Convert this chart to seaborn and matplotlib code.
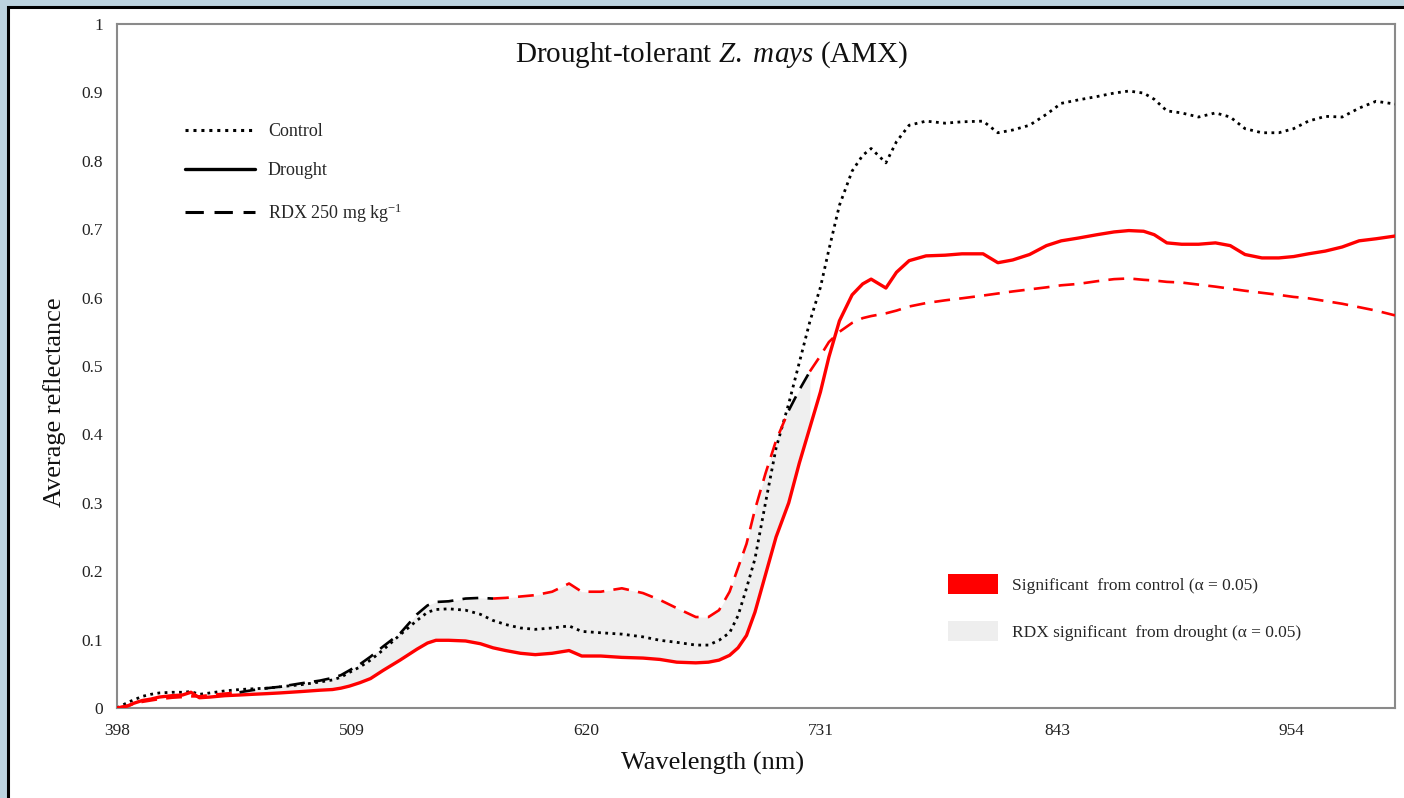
import numpy as np
import pandas as pd
import matplotlib
matplotlib.use("Agg")
import matplotlib.pyplot as plt
import seaborn as sns
from matplotlib.lines import Line2D
from matplotlib.patches import Patch, Rectangle

# ---------------- data ----------------
wavelength = [398, 403, 406, 410, 414, 418, 424, 429, 433, 437, 442, 449, 456, 462, 469, 475, 485, 494, 500, 504,
              508, 513, 518, 524, 532, 540, 545, 549, 555, 563, 570, 576, 582, 589, 596, 604, 612, 618, 627, 637,
              647, 655, 663, 672, 678, 683, 688, 692, 696, 700, 705, 710, 716, 721, 726, 731, 735, 740, 746, 751,
              755, 762, 767, 773, 781, 790, 798, 808, 815, 822, 830, 838, 845, 853, 862, 870, 877, 884, 889, 895,
              902, 910, 918, 925, 932, 940, 948, 955, 962, 970, 978, 986, 994, 1003]

control = [0.000, 0.008, 0.012, 0.017, 0.020, 0.022, 0.023, 0.023, 0.024, 0.020, 0.022, 0.025, 0.027, 0.028, 0.029, 0.031, 0.034, 0.038, 0.041, 0.045,
           0.052, 0.060, 0.070, 0.085, 0.107, 0.128, 0.140, 0.144, 0.145, 0.143, 0.137, 0.128, 0.122, 0.117, 0.115, 0.117, 0.120, 0.112, 0.110, 0.108,
           0.104, 0.099, 0.096, 0.092, 0.092, 0.099, 0.110, 0.135, 0.175, 0.218, 0.300, 0.380, 0.445, 0.505, 0.565, 0.615, 0.670, 0.735, 0.785, 0.808,
           0.818, 0.797, 0.828, 0.852, 0.858, 0.855, 0.857, 0.858, 0.841, 0.845, 0.852, 0.868, 0.884, 0.889, 0.894, 0.899, 0.902, 0.899, 0.890, 0.873,
           0.870, 0.864, 0.870, 0.864, 0.847, 0.841, 0.841, 0.847, 0.858, 0.865, 0.864, 0.877, 0.887, 0.883]

drought = [0.000, 0.003, 0.007, 0.011, 0.013, 0.016, 0.018, 0.019, 0.023, 0.015, 0.016, 0.018, 0.019, 0.020, 0.021, 0.022, 0.024, 0.026, 0.027, 0.029,
           0.032, 0.037, 0.043, 0.055, 0.070, 0.086, 0.095, 0.099, 0.099, 0.098, 0.094, 0.088, 0.084, 0.080, 0.078, 0.080, 0.084, 0.076, 0.076, 0.074,
           0.073, 0.071, 0.067, 0.066, 0.067, 0.070, 0.077, 0.088, 0.106, 0.140, 0.195, 0.250, 0.300, 0.358, 0.410, 0.462, 0.513, 0.566, 0.604, 0.620,
           0.627, 0.614, 0.637, 0.654, 0.661, 0.662, 0.664, 0.664, 0.651, 0.655, 0.663, 0.676, 0.683, 0.687, 0.692, 0.696, 0.698, 0.697, 0.692, 0.680,
           0.678, 0.678, 0.680, 0.676, 0.663, 0.658, 0.658, 0.660, 0.664, 0.668, 0.674, 0.683, 0.686, 0.690]

rdx = [0.000, 0.003, 0.006, 0.009, 0.011, 0.013, 0.015, 0.016, 0.017, 0.017, 0.019, 0.021, 0.023, 0.026, 0.029, 0.031, 0.036, 0.040, 0.044, 0.048,
       0.055, 0.064, 0.075, 0.090, 0.109, 0.137, 0.150, 0.155, 0.156, 0.160, 0.161, 0.160, 0.161, 0.163, 0.165, 0.170, 0.182, 0.170, 0.170, 0.175,
       0.168, 0.158, 0.146, 0.133, 0.133, 0.143, 0.170, 0.205, 0.240, 0.290, 0.343, 0.391, 0.435, 0.465, 0.492, 0.515, 0.535, 0.550, 0.563, 0.570,
       0.573, 0.577, 0.581, 0.587, 0.592, 0.596, 0.599, 0.603, 0.606, 0.609, 0.612, 0.615, 0.618, 0.620, 0.624, 0.627, 0.628, 0.626, 0.625, 0.623,
       0.622, 0.619, 0.616, 0.613, 0.610, 0.607, 0.604, 0.601, 0.599, 0.595, 0.591, 0.586, 0.581, 0.574]

# wavelength ranges where RDX differs significantly from control / from drought
rdx_sig_control = [(398, 449), (573, 710), (725, 1003)]
rdx_sig_drought = [(456, 728)]

x_ticks = [398, 509, 620, 731, 843, 954]
y_ticks = [0, 0.1, 0.2, 0.3, 0.4, 0.5, 0.6, 0.7, 0.8, 0.9, 1]
y_ticklabels = ["0", "0.1", "0.2", "0.3", "0.4", "0.5", "0.6", "0.7", "0.8", "0.9", "1"]

# ---------------- style ----------------
sns.set_theme(style="white")
plt.rcParams["font.family"] = ["Liberation Serif", "DejaVu Serif"]
plt.rcParams["mathtext.fontset"] = "custom"
plt.rcParams["mathtext.rm"] = "Liberation Serif"
plt.rcParams["mathtext.it"] = "Liberation Serif:italic"

RED = "#ff0000"
DOT = (0, (1, 1.6))
DASH = (0, (6, 3.5))

fig = plt.figure(figsize=(14.04, 7.98), dpi=100, facecolor="#bcd3df")
frame = Rectangle((8 / 1404, -0.05), 1.2, 0.05 + 791 / 798,
                  transform=fig.transFigure, facecolor="white",
                  edgecolor="black", linewidth=2.2, zorder=-10)
fig.patches.append(frame)
ax = fig.add_axes([117 / 1404, 1 - 708 / 798, (1395 - 117) / 1404, (708 - 24) / 798])
ax.set_facecolor("white")
ax.set_zorder(1)

wl = np.array(wavelength, dtype=float)
c = np.array(control)
d = np.array(drought)
r = np.array(rdx)


def in_ranges(x, ranges):
    m = np.zeros_like(x, dtype=bool)
    for a, b in ranges:
        m |= (x >= a) & (x <= b)
    return m


def runs(mask):
    out = []
    i, n = 0, len(mask)
    while i < n:
        if mask[i]:
            j = i
            while j + 1 < n and mask[j + 1]:
                j += 1
            out.append((i, min(j + 1, n - 1)))
            i = j + 1
        else:
            i += 1
    return out


# grey fill: RDX significant from drought
fill_mask = in_ranges(wl, rdx_sig_drought)
ax.fill_between(wl, d, r, where=fill_mask, color="#efefef", linewidth=0, zorder=1)

# control (dotted, black)
sns.lineplot(x=wl, y=c, ax=ax, color="black", linestyle=DOT, linewidth=2.0, zorder=3)
# drought (solid, red: significant from control everywhere)
sns.lineplot(x=wl, y=d, ax=ax, color=RED, linestyle="-", linewidth=2.4, zorder=4)
# RDX dashed: red where significant from control, black otherwise
sig = in_ranges(wl, rdx_sig_control)
for mask, col in ((sig, RED), (~sig, "black")):
    for i0, i1 in runs(mask):
        sns.lineplot(x=wl[i0:i1 + 1], y=r[i0:i1 + 1], ax=ax, color=col,
                     linestyle=DASH, linewidth=1.9, zorder=5)

ax.set_xlim(398, 1003)
ax.set_ylim(0, 1)
ax.set_xticks(x_ticks)
ax.set_xticklabels([str(t) for t in x_ticks])
ax.set_yticks(y_ticks)
ax.set_yticklabels(y_ticklabels)
ax.tick_params(axis="both", length=0, labelsize=12.5, colors="#222222", pad=10)
ax.tick_params(axis="x", pad=11)
for s in ax.spines.values():
    s.set_color("#8a8a8a")
    s.set_linewidth(1.5)

ax.set_xlabel("Wavelength (nm)", fontsize=19, color="#111111")
ax.xaxis.set_label_coords(0.466, -0.064)
ax.set_ylabel("Average reflectance", fontsize=19, color="#111111")
ax.yaxis.set_label_coords(-0.040, 0.447)

ax.text(0.465, 0.955, r"Drought-tolerant $\mathit{Z.}$ $\mathit{mays}$ (AMX)", transform=ax.transAxes,
        ha="center", va="center", fontsize=21, color="#111111")

# legend 1: line styles
h1 = [Line2D([], [], color="black", linestyle=DOT, linewidth=2.2),
      Line2D([], [], color="black", linestyle="-", linewidth=2.4),
      Line2D([], [], color="black", linestyle=DASH, linewidth=2.2)]
leg1 = ax.legend(h1, ["Control", "Drought", r"RDX 250 mg kg$^{\mathregular{-1}}$"],
                 loc="upper left", bbox_to_anchor=(0.053, 0.855), frameon=False,
                 fontsize=13, handlelength=3.9, handletextpad=0.7, labelspacing=1.22,
                 borderpad=0, borderaxespad=0)
ax.add_artist(leg1)

# legend 2: significance patches
h2 = [Patch(facecolor=RED, edgecolor="none"), Patch(facecolor="#eeeeee", edgecolor="none")]
ax.legend(h2, ["Significant  from control (α = 0.05)", "RDX significant  from drought (α = 0.05)"],
          loc="upper left", bbox_to_anchor=(0.650, 0.196), frameon=False,
          fontsize=12.5, handlelength=2.9, handleheight=1.4, handletextpad=0.8,
          labelspacing=1.55, borderpad=0, borderaxespad=0)

fig.savefig("out.png", dpi=100, facecolor=fig.get_facecolor())
